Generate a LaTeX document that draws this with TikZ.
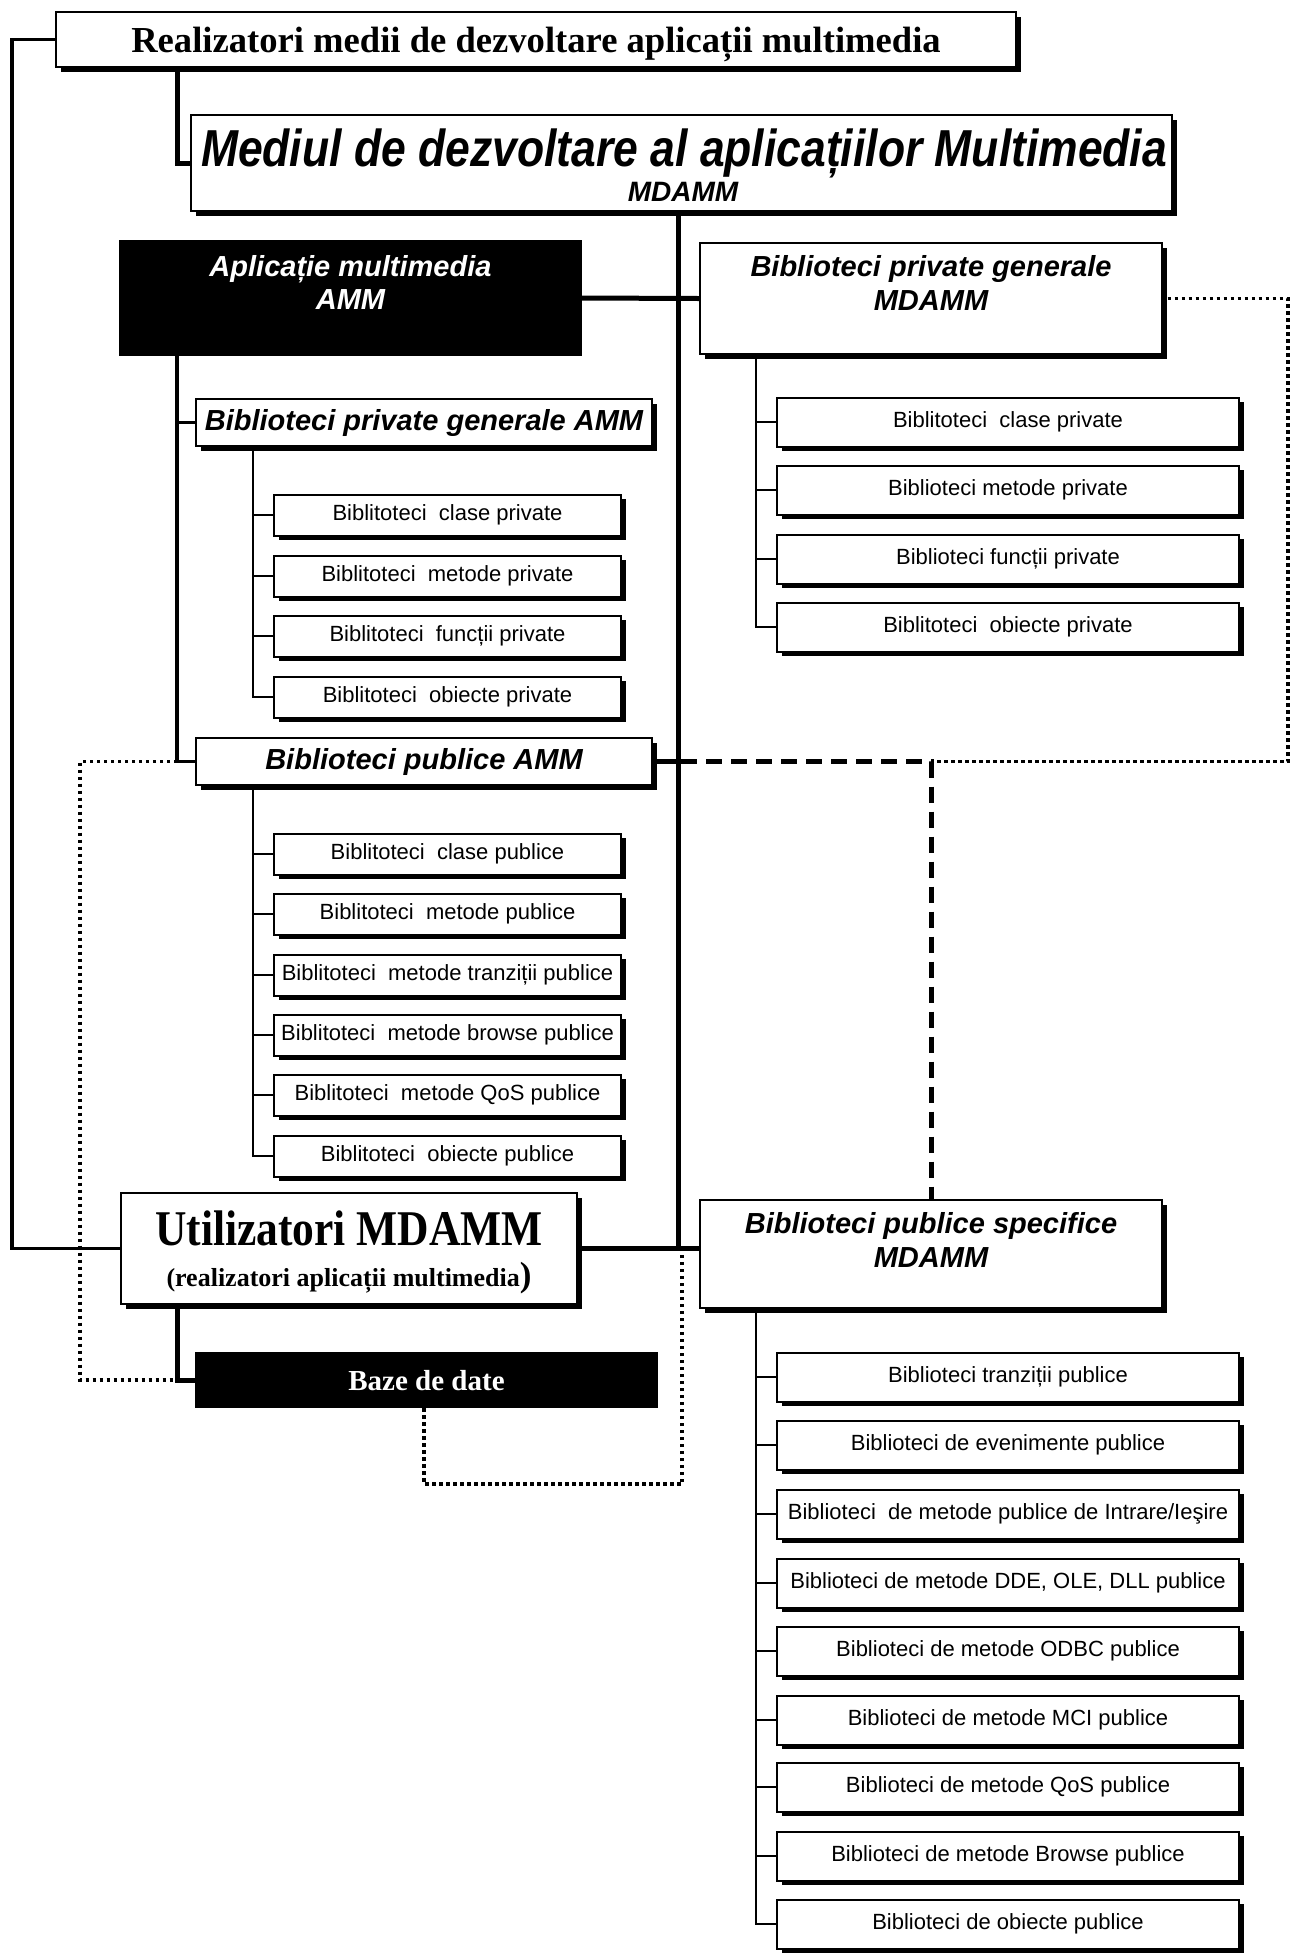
\documentclass[tikz,border=0pt]{standalone}
\usepackage{fontspec}
\setmainfont{Liberation Serif}
\setsansfont{Liberation Sans}
\newfontfamily\narrowsans[FakeStretch=0.855]{Liberation Sans}
\newfontfamily\narrowserif[FakeStretch=0.87]{Liberation Serif}
\usetikzlibrary{shadows,calc}

\begin{document}
\begin{tikzpicture}[x=1pt,y=-1pt,
  box/.style={draw=black, line width=2pt, fill=white, inner sep=0pt,
    drop shadow={shadow xshift=4.5pt, shadow yshift=-4.5pt, opacity=1, fill=black}},
  darkbox/.style={draw=black, fill=black, line width=2pt, inner sep=0pt},
  leaf/.style={box, minimum width=347pt, minimum height=41pt,
    font=\sffamily\fontsize{22}{26}\selectfont},
  rleaf/.style={box, minimum width=462pt, minimum height=49pt,
    font=\sffamily\fontsize{22}{26}\selectfont},
  head/.style={font=\sffamily\bfseries\itshape\fontsize{29}{33}\selectfont, inner sep=0pt},
  trunk/.style={line width=5pt},
  midline/.style={line width=3.5pt},
  twig/.style={line width=2pt},
  dotline/.style={line width=3.5pt, dash pattern=on 3.5pt off 3.5pt},
  dashline/.style={line width=5pt, dash pattern=on 16pt off 9pt},
]
\useasboundingbox (0,0) rectangle (1292,1955);

% bus coordinates
\coordinate (edge)   at (12,0);
\coordinate (ledge)  at (80,0);
\coordinate (ltrunk) at (177,0);
\coordinate (lbus)   at (253,0);
\coordinate (mtrunk) at (678,0);
\coordinate (rbus)   at (756,0);
\coordinate (redge)  at (1288,0);
\coordinate (dbot)   at (424,1484);

% ---- main boxes
\node[box, minimum width=960pt, minimum height=55pt] (top) at (536,39.5) {};
\node[anchor=base, inner sep=0pt, font=\bfseries\fontsize{36.6}{40}\selectfont] (topT) at (536,52)
  {Realizatori medii de dezvoltare aplicații multimedia};

\node[box, minimum width=981pt, minimum height=96pt] (mediul) at (681.5,163) {};
\node[anchor=base, inner sep=0pt, font=\narrowsans\bfseries\itshape\fontsize{52}{56}\selectfont] (mediulT) at (684,166)
  {Mediul de dezvoltare al aplicațiilor Multimedia};
\node[anchor=base, inner sep=0pt, font=\sffamily\bfseries\itshape\fontsize{28}{30}\selectfont] (mediulS) at (683,201) {MDAMM};

\node[darkbox, minimum width=461pt, minimum height=114pt] (aplic) at (350.5,298) {};
\node[head, text=white, anchor=base] (aplicA) at (350.5,276) {Aplicație multimedia};
\node[head, text=white, anchor=base] (aplicB) at (350.5,309) {AMM};

\node[box, minimum width=462pt, minimum height=111pt] (bpgMD) at (931,298.5) {};
\node[head, anchor=base] (bpgMDA) at (931,276) {Biblioteci private generale};
\node[head, anchor=base] (bpgMDB) at (931,310) {MDAMM};

\node[box, minimum width=456pt, minimum height=47pt] (bpgAMM) at (424,422.5) {};
\node[head] (bpgAMMT) at (424,422.5) {Biblioteci private generale AMM};

\node[leaf] (lp1) at (447.5,515) {Biblitoteci~ clase private};
\node[leaf] (lp2) at (447.5,576) {Biblitoteci~ metode private};
\node[leaf] (lp3) at (447.5,636) {Biblitoteci~ funcții private};
\node[leaf] (lp4) at (447.5,697) {Biblitoteci~ obiecte private};

\node[box, minimum width=456pt, minimum height=47pt] (bpAMM) at (424,761.5) {};
\node[head] (bpAMMT) at (424,761.5) {Biblioteci publice AMM};

\node[leaf] (lq1) at (447.5,854)  {Biblitoteci~ clase publice};
\node[leaf] (lq2) at (447.5,914)  {Biblitoteci~ metode publice};
\node[leaf] (lq3) at (447.5,975)  {Biblitoteci~ metode tranziții publice};
\node[leaf] (lq4) at (447.5,1035) {Biblitoteci~ metode browse publice};
\node[leaf] (lq5) at (447.5,1095) {Biblitoteci~ metode QoS publice};
\node[leaf] (lq6) at (447.5,1156) {Biblitoteci~ obiecte publice};

\node[rleaf] (rp1) at (1008,422) {Biblitoteci~ clase private};
\node[rleaf] (rp2) at (1008,490) {Biblioteci metode private};
\node[rleaf] (rp3) at (1008,559) {Biblioteci funcții private};
\node[rleaf] (rp4) at (1008,627) {Biblitoteci~ obiecte private};

\node[box, minimum width=456pt, minimum height=111pt] (util) at (349,1248.5) {};
\node[anchor=base, inner sep=0pt, font=\narrowserif\bfseries\fontsize{50}{54}\selectfont] (utilA) at (349,1245) {Utilizatori MDAMM};
\node[anchor=base, inner sep=0pt, font=\bfseries\fontsize{26}{28}\selectfont] (utilB) at (349,1286)
  {(realizatori aplicații multimedia{\fontsize{35}{36}\selectfont )}};

\node[box, minimum width=462pt, minimum height=108pt] (bpsMD) at (931,1254) {};
\node[head, anchor=base] (bpsMDA) at (931,1233) {Biblioteci publice specifice};
\node[head, anchor=base] (bpsMDB) at (931,1267) {MDAMM};

\node[darkbox, minimum width=461pt, minimum height=54pt] (baze) at (426.5,1380) {};
\node[anchor=base, inner sep=0pt, text=white, font=\bfseries\fontsize{29}{32}\selectfont] (bazeT) at (426.5,1390) {Baze de date};

\node[rleaf] (rs1) at (1008,1377) {Biblioteci tranziții publice};
\node[rleaf] (rs2) at (1008,1445) {Biblioteci de evenimente publice};
\node[rleaf] (rs3) at (1008,1514) {Biblioteci~ de metode publice de Intrare/Ieşire};
\node[rleaf] (rs4) at (1008,1583) {Biblioteci de metode DDE, OLE, DLL publice};
\node[rleaf] (rs5) at (1008,1651) {Biblioteci de metode ODBC publice};
\node[rleaf] (rs6) at (1008,1720) {Biblioteci de metode MCI publice};
\node[rleaf] (rs7) at (1008,1787) {Biblioteci de metode QoS publice};
\node[rleaf] (rs8) at (1008,1856) {Biblioteci de metode Browse publice};
\node[rleaf] (rs9) at (1008,1924) {Biblioteci de obiecte publice};

% ---- connectors
\draw[midline] (top.west) -| (edge |- util.west) -- (util.west);
\draw[trunk] (top.south -| ltrunk) |- (mediul.west);
\draw[trunk] (mediul.south -| mtrunk) -- (mtrunk |- util.east);
\draw[trunk] (aplic.east) -- (bpgMD.west);
\draw[trunk] (util.east) -- (util.east -| bpsMD.west);
\draw[midline] (aplic.south -| ltrunk) |- (bpAMM.west);
\draw[midline] (bpgAMM.west -| ltrunk) -- (bpgAMM.west);
\draw[trunk] (util.south -| ltrunk) |- (baze.west);
\draw[trunk] (bpAMM.east) -- (bpAMM.east -| mtrunk);

% sub-branches
\draw[twig] (bpgAMM.south -| lbus) |- (lp4.west);
\foreach \n in {lp1,lp2,lp3} \draw[twig] (\n.west -| lbus) -- (\n.west);
\draw[twig] (bpAMM.south -| lbus) |- (lq6.west);
\foreach \n in {lq1,lq2,lq3,lq4,lq5} \draw[twig] (\n.west -| lbus) -- (\n.west);
\draw[twig] (bpgMD.south -| rbus) |- (rp4.west);
\foreach \n in {rp1,rp2,rp3} \draw[twig] (\n.west -| rbus) -- (\n.west);
\draw[twig] (bpsMD.south -| rbus) |- (rs9.west);
\foreach \n in {rs1,rs2,rs3,rs4,rs5,rs6,rs7,rs8} \draw[twig] (\n.west -| rbus) -- (\n.west);

% dashed and dotted links
\draw[dashline] ([xshift=3pt]bpAMM.east -| mtrunk) -| (bpsMD.north);
\draw[dotline] ([xshift=4.5pt]bpgMD.east) -| (redge |- bpAMM.east) -- ([xshift=6pt]bpsMD.north |- bpAMM.east);
\draw[dotline] (bpAMM.west -| ltrunk) -- (bpAMM.west -| ledge) |- (baze.west -| ltrunk);
\draw[dotline] (baze.south -| dbot) -- (dbot) -| ([xshift=4pt]mtrunk |- util.east);
\end{tikzpicture}
\end{document}
